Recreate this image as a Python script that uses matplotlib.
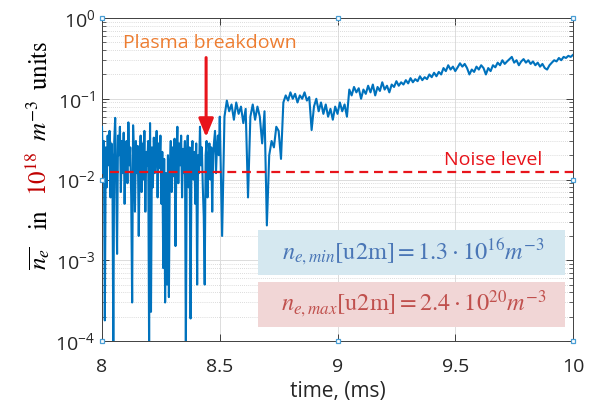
import numpy as np
import matplotlib.pyplot as plt
from matplotlib.patches import Rectangle

# line-integrated density, 8.0 - 8.5 ms (before breakdown, noisy)
ne_noise = [0.045, 0.012, 0.03, 0.00018, 0.025, 0.008, 0.035, 0.015, 0.04, 0.006,
            0.028, 0.018, 0.00008, 0.03, 0.058, 0.01, 0.0012, 0.035, 0.02, 0.045,
            0.007, 0.03, 0.012, 0.038, 0.005, 0.022, 0.03, 0.009, 0.051, 0.015,
            0.025, 0.006, 0.0003, 0.047, 0.02, 0.004, 0.03, 0.012, 0.026, 0.002,
            0.018, 0.035, 0.007, 0.028, 0.01, 0.04, 0.004, 0.022, 0.015, 0.03,
            0.00008, 0.05, 0.00023, 0.025, 0.008, 0.033, 0.012, 0.02, 0.04, 0.006,
            0.028, 0.014, 0.035, 0.005, 0.022, 0.0008, 0.018, 0.0003, 0.012, 0.0005,
            0.02, 0.00035, 0.015, 0.03, 0.007, 0.025, 0.011, 0.032, 0.0015, 0.02,
            0.045, 0.009, 0.028, 0.015, 0.035, 0.006, 0.024, 0.012, 0.03, 0.00008,
            0.02, 0.035, 0.008, 0.025, 0.00019, 0.018, 0.03, 0.01, 0.022, 0.005,
            0.028, 0.0005, 0.02, 0.012, 0.045, 0.015, 0.025, 0.008, 0.0035, 0.0005,
            0.02, 0.03, 0.006, 0.018, 0.028, 0.01, 0.025, 0.004, 0.02, 0.03,
            0.04, 0.012, 0.025, 0.035, 0.02, 0.06]

# 8.51 - 10.0 ms (after breakdown)
ne_rise = [0.002, 0.06, 0.095, 0.07, 0.085, 0.055, 0.09, 0.065, 0.08, 0.05,
           0.075, 0.006, 0.06, 0.085, 0.055, 0.08, 0.06, 0.028, 0.07, 0.0027,
           0.02, 0.03, 0.025, 0.045, 0.04, 0.018, 0.09, 0.11, 0.095, 0.12,
           0.1, 0.115, 0.09, 0.11, 0.1, 0.12, 0.095, 0.105, 0.041, 0.08,
           0.1, 0.07, 0.09, 0.065, 0.085, 0.06, 0.075, 0.055, 0.08, 0.065,
           0.09, 0.07, 0.085, 0.06, 0.13, 0.11, 0.14, 0.12, 0.135, 0.1,
           0.13, 0.115, 0.145, 0.12, 0.15, 0.11, 0.14, 0.125, 0.16, 0.13,
           0.145, 0.12, 0.15, 0.14, 0.165, 0.145, 0.16, 0.15, 0.17, 0.155,
           0.18, 0.16, 0.175, 0.165, 0.19, 0.17, 0.185, 0.175, 0.2, 0.185,
           0.21, 0.19, 0.215, 0.2, 0.24, 0.22, 0.26, 0.23, 0.25, 0.22,
           0.245, 0.275, 0.25, 0.27, 0.24, 0.2, 0.23, 0.215, 0.25, 0.23,
           0.26, 0.24, 0.2, 0.24, 0.22, 0.26, 0.245, 0.28, 0.26, 0.3,
           0.27, 0.29, 0.31, 0.33, 0.28, 0.3, 0.26, 0.29, 0.31, 0.28,
           0.3, 0.27, 0.29, 0.26, 0.28, 0.25, 0.27, 0.24, 0.23, 0.26,
           0.28, 0.3, 0.29, 0.32, 0.3, 0.33, 0.32, 0.34, 0.33, 0.35]

t_noise = np.linspace(8.0, 8.5, len(ne_noise))
t_rise = np.linspace(8.51, 10.0, len(ne_rise))
time = np.concatenate([t_noise, t_rise])
ne = np.concatenate([ne_noise, ne_rise])

noise_level = 0.0125
noise_start = 8.035

plt.rcParams['font.family'] = ['Open Sans', 'DejaVu Sans']

fig = plt.figure(figsize=(5.91, 4.03), dpi=100)
ax = fig.add_axes([0.1726, 0.1538, 0.797, 0.8015])

ax.plot(time, ne, color='#0072BD', lw=1.5, zorder=3)
ax.hlines(noise_level, noise_start, 10, colors='#E8141B', linestyles=(0, (4, 2.6)),
          lw=1.6, zorder=4)

ax.set_yscale('log')
ax.set_xlim(8, 10)
ax.set_ylim(1e-4, 1)
ax.set_xticks([8, 8.5, 9, 9.5, 10])
ax.set_xticklabels(['8', '8.5', '9', '9.5', '10'])
ax.tick_params(which='both', direction='in', top=True, right=True,
               labelsize=14, colors='#262626')
ax.tick_params(axis='x', pad=12)
ax.tick_params(axis='y', pad=5)
ax.tick_params(which='major', length=5, width=0.6)
ax.tick_params(which='minor', length=3, width=0.5)
ax.minorticks_on()
ax.xaxis.set_minor_locator(plt.NullLocator())
ax.grid(which='major', color='#dcdcdc', lw=0.7)
ax.grid(which='minor', axis='y', color='#d0d0d0', lw=0.6, ls=(0, (1, 1.5)))
for s in ax.spines.values():
    s.set_color('#404040')
    s.set_linewidth(0.7)

ax.set_xlabel('time, (ms)', fontsize=15, color='#262626', labelpad=4)

# y label in pieces, the power of ten in dark red
lab_x = 47 / 591
pieces = [(r'$\overline{n_e}$', 'black', 258),
          (r'$\mathrm{in}$', 'black', 219),
          (r'$10^{18}$', '#C00000', 174),
          (r'$m^{-3}$', 'black', 120),
          (r'$\mathrm{units}$', 'black', 65)]
for txt, col, ypx in pieces:
    fig.text(lab_x, 1 - ypx / 403, txt, rotation=90, rotation_mode='anchor',
             ha='center', va='baseline', fontsize=18, color=col,
             math_fontfamily='stix')

# selection handles on the axes frame
hx = [0, 0.5, 1, 0, 1, 0, 0.5, 1]
hy = [1, 1, 1, 0.5, 0.5, 0, 0, 0]
ax.plot(hx, hy, 's', ms=3.5, mfc='white', mec='#4a9fd6', mew=0.9,
        transform=ax.transAxes, clip_on=False, zorder=6)

# annotations
ax.text(0.229, 0.923, 'Plasma breakdown', transform=ax.transAxes, ha='center',
        va='center', fontsize=14, color='#ED7D31', zorder=6)
ax.annotate('', xy=(8.442, 0.031), xytext=(8.442, 0.35),
            arrowprops=dict(arrowstyle='-|>,head_width=0.45,head_length=1.1',
                            color='#E8141B', lw=2.2), zorder=6)
ax.text(0.830, 0.560, 'Noise level', transform=ax.transAxes, ha='center',
        va='center', fontsize=14, color='#E8141B', zorder=6)

ax.add_patch(Rectangle((0.331, 0.204), 0.652, 0.140, transform=ax.transAxes,
                       fc='#d5e8f0', ec='none', zorder=5))
ax.add_patch(Rectangle((0.331, 0.043), 0.652, 0.140, transform=ax.transAxes,
                       fc='#f1d6d6', ec='none', zorder=5))
ax.text(0.662, 0.276, r'$n_{e,min}[\mathrm{u2m}] = 1.3 \cdot 10^{16}m^{-3}$',
        transform=ax.transAxes, ha='center', va='center', fontsize=17.5,
        color='#4a76b6', math_fontfamily='stix', zorder=6)
ax.text(0.662, 0.115, r'$n_{e,max}[\mathrm{u2m}] = 2.4 \cdot 10^{20}m^{-3}$',
        transform=ax.transAxes, ha='center', va='center', fontsize=17.5,
        color='#c0504d', math_fontfamily='stix', zorder=6)

fig.savefig('out.png', dpi=100)
